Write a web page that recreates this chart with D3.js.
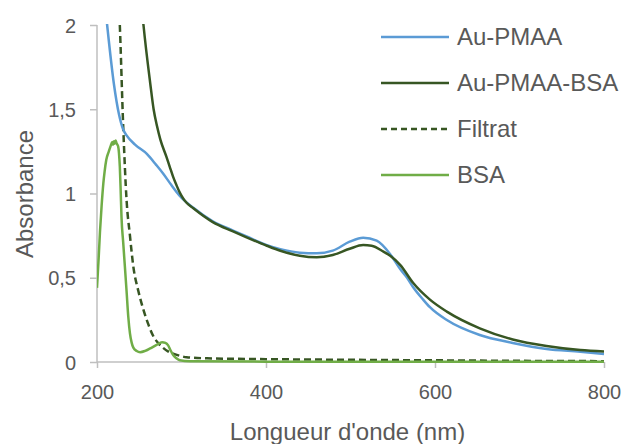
<!DOCTYPE html>
<html>
<head>
<meta charset="utf-8">
<script src="https://cdn.jsdelivr.net/npm/d3@7/dist/d3.min.js"></script>
<style>
  html, body { margin: 0; padding: 0; background: #fff; }
  svg { display: block; }
  text { font-family: "Liberation Sans", Arial, sans-serif; fill: #595959; }
</style>
</head>
<body>
<svg id="chart" width="624" height="444"></svg>
<script>
// ---- Data ----
const seriesNames = ["Au-PMAA", "Au-PMAA-BSA", "Filtrat", "BSA"];

const wlPMAA = [200, 205, 212, 220, 226, 231, 235, 245, 259, 270, 278, 288, 298, 314, 337, 361, 377, 401, 417, 440, 460, 479, 499, 515, 531, 547, 559, 567, 574, 586, 594, 614, 653, 692, 732, 772, 800];
const absPMAA = [2.9, 2.35, 2.0, 1.65, 1.47, 1.38, 1.345, 1.29, 1.235, 1.17, 1.12, 1.05, 0.985, 0.915, 0.835, 0.78, 0.745, 0.694, 0.67, 0.649, 0.645, 0.661, 0.714, 0.738, 0.72, 0.64, 0.55, 0.5, 0.445, 0.37, 0.325, 0.249, 0.16, 0.113, 0.077, 0.061, 0.048];

const wlPMAABSA = [240, 248, 255, 263, 267, 271, 275, 282, 286, 290, 294, 298, 302, 306, 314, 337, 361, 377, 401, 417, 440, 460, 479, 499, 515, 525, 539, 547, 559, 574, 594, 614, 653, 692, 732, 772, 800];
const absPMAABSA = [3.0, 2.4, 2.0, 1.654, 1.5, 1.4, 1.32, 1.22, 1.16, 1.1, 1.05, 1.005, 0.97, 0.945, 0.912, 0.83, 0.775, 0.74, 0.69, 0.66, 0.63, 0.621, 0.635, 0.672, 0.694, 0.69, 0.655, 0.63, 0.575, 0.47, 0.37, 0.299, 0.2, 0.134, 0.095, 0.071, 0.063];

const wlFiltrat = [215, 222, 227, 231, 235, 239, 243, 249, 255, 261, 267, 272, 278, 284, 290, 298, 306, 330, 400, 500, 600, 700, 800];
const absFiltrat = [3.5, 2.5, 2.0, 1.4, 0.96, 0.75, 0.566, 0.42, 0.309, 0.22, 0.15, 0.115, 0.085, 0.063, 0.05, 0.037, 0.028, 0.022, 0.017, 0.013, 0.01, 0.007, 0.005];

const wlBSA = [200, 202, 203.5, 205.5, 207.5, 209, 211, 214, 216, 218, 219, 220, 221, 222, 223, 225, 226, 227, 228, 229, 231, 233, 235, 237, 239, 241, 243, 247, 251, 257, 263, 270, 277, 281, 284, 287, 290, 294, 298, 310, 400, 800];
const absBSA = [0.44, 0.62, 0.77, 0.93, 1.06, 1.13, 1.2, 1.25, 1.28, 1.305, 1.29, 1.31, 1.295, 1.315, 1.3, 1.28, 1.24, 1.16, 1.02, 0.86, 0.71, 0.566, 0.42, 0.27, 0.17, 0.115, 0.085, 0.065, 0.058, 0.066, 0.081, 0.1, 0.117, 0.113, 0.1, 0.07, 0.042, 0.022, 0.01, 0.004, 0.002, 0.001];

const xTicks = [200, 400, 600, 800];
const yTicks = [0, 0.5, 1, 1.5, 2];
const yTickLabels = ["0", "0,5", "1", "1,5", "2"];

// ---- Layout ----
const svg = d3.select("#chart");
const x = d3.scaleLinear().domain([200, 800]).range([97, 604]);
const y = d3.scaleLinear().domain([0, 2]).range([362, 25]);

svg.append("defs").append("clipPath").attr("id", "plotclip")
  .append("rect").attr("x", x(200)).attr("y", y(2) - 1)
  .attr("width", x(800) - x(200) + 3).attr("height", y(0) - y(2) + 2);

// axes
const axisColor = "#BFBFBF";
const xAxis = svg.append("g").attr("transform", `translate(0,${y(0)})`)
  .call(d3.axisBottom(x).tickValues(xTicks).tickSize(6).tickPadding(17).tickFormat(d3.format("d")));
const yAxis = svg.append("g").attr("transform", `translate(${x(200)},0)`)
  .call(d3.axisLeft(y).tickValues(yTicks).tickSize(7).tickPadding(14).tickFormat((d, i) => yTickLabels[i]));
[xAxis, yAxis].forEach(g => {
  g.selectAll("path, line").attr("stroke", axisColor).attr("stroke-width", 1.5);
  g.selectAll("text").style("font-family", "'Liberation Sans', Arial, sans-serif")
    .style("font-size", "20px").attr("fill", "#595959");
});
yAxis.selectAll("text").attr("dy", "0.35em");
yAxis.select(".domain").attr("d", `M0,${y(0)}V${y(2)}`);
xAxis.select(".domain").attr("d", `M${x(200)},0H${x(800)}`);

// lines
const line = d3.line().x(d => x(d[0])).y(d => y(d[1])).curve(d3.curveMonotoneX);
const zip = (a, b) => a.map((v, i) => [v, b[i]]);

const series = [
  { name: seriesNames[0], data: zip(wlPMAA, absPMAA), color: "#5B9BD5", dash: null },
  { name: seriesNames[1], data: zip(wlPMAABSA, absPMAABSA), color: "#375623", dash: null },
  { name: seriesNames[2], data: zip(wlFiltrat, absFiltrat), color: "#375623", dash: "7,4" },
  { name: seriesNames[3], data: zip(wlBSA, absBSA), color: "#70AD47", dash: null }
];

const plot = svg.append("g").attr("clip-path", "url(#plotclip)");
[2, 3, 0, 1].forEach(i => {
  const s = series[i];
  plot.append("path").datum(s.data)
    .attr("d", line)
    .attr("fill", "none")
    .attr("stroke", s.color)
    .attr("stroke-width", 2.5)
    .attr("stroke-linejoin", "round")
    .attr("stroke-dasharray", s.dash);
});

// legend
const legY = [37, 83, 129, 175];
const leg = svg.append("g");
series.forEach((s, i) => {
  leg.append("line").attr("x1", 381).attr("x2", 449)
    .attr("y1", legY[i]).attr("y2", legY[i])
    .attr("stroke", s.color).attr("stroke-width", 2.5)
    .attr("stroke-dasharray", s.dash ? "6,4" : null);
  leg.append("text").attr("x", 457).attr("y", legY[i]).attr("dy", "0.35em")
    .style("font-size", "24px").text(s.name);
});

// axis titles
svg.append("text").attr("x", (x(200) + x(800)) / 2 - 3).attr("y", 440)
  .attr("text-anchor", "middle").style("font-size", "24px")
  .text("Longueur d'onde (nm)");
svg.append("text").attr("transform", "translate(33,194) rotate(-90)")
  .attr("text-anchor", "middle").style("font-size", "24px")
  .text("Absorbance");
</script>
</body>
</html>
